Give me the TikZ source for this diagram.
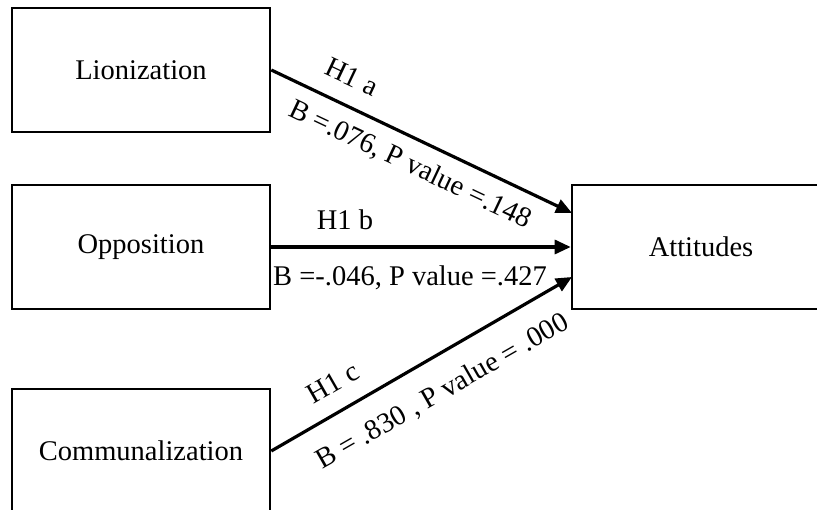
\documentclass[tikz,border=0pt]{standalone}
\usepackage{fontspec}
\setmainfont{Liberation Serif}
\usetikzlibrary{arrows.meta}
\begin{document}
\begin{tikzpicture}[x=1pt,y=-1pt,
  box/.style={draw=black,line width=2.6pt,minimum width=258pt,minimum height=124pt,inner sep=0pt,font=\fontsize{28.5}{34}\selectfont},
  conn/.style={line width=3.2pt,-{Triangle[length=16pt,width=14pt]}},
  lbl/.style={font=\fontsize{28.5}{34}\selectfont,inner sep=0pt}]
\useasboundingbox (0,0) rectangle (817,510);
\clip (0,0) rectangle (817,510);
\fill[white] (0,0) rectangle (817,510);
\node[box] (lion) at (141,70) {Lionization};
\node[box] (opp) at (141,247) {Opposition};
\node[box] (comm) at (141,451) {Communalization};
\node[box] (att) at (701,247) {Attitudes};
\coordinate (t1) at (572,213);
\coordinate (t3) at (572,277);
\draw[conn] (lion.east) -- (t1);
\draw[conn] (opp.east) -- (att.west);
\draw[conn] (comm.east) -- (t3);
\node[lbl,rotate=-25.3] (la) at (352,77) {H1 a};
\node[lbl,rotate=-25.3] (lab) at (410,165) {B =.076, P value =.148};
\node[lbl] (lb) at (345,220) {H1 b};
\node[lbl] (lbb) at (410,278) {B =-.046, P value =.427};
\node[lbl,rotate=29.8] (lc) at (333,383) {H1 c};
\node[lbl,rotate=29.8] (lcb) at (443,392) {B = .830 , P value = .000};
\end{tikzpicture}
\end{document}
